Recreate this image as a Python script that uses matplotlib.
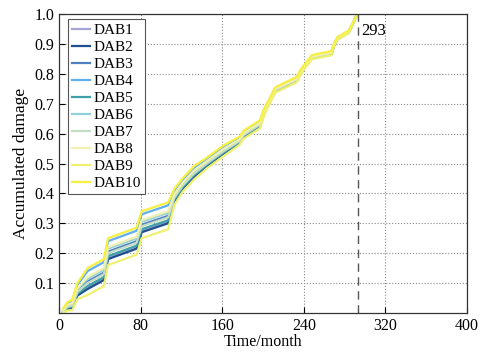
import matplotlib
matplotlib.use("Agg")
import matplotlib.pyplot as plt

months = [4, 8, 13, 18, 28, 44, 48, 76, 81, 107, 113, 121, 132, 145, 161, 177,
          181, 197, 201, 206, 212, 233, 237, 241, 248, 267, 270, 273, 284, 287, 291, 293]

dab1 = [0.002, 0.016, 0.019, 0.061, 0.085, 0.115, 0.185, 0.220, 0.275, 0.305, 0.376, 0.418, 0.458, 0.494, 0.534, 0.571,
        0.591, 0.626, 0.666, 0.702, 0.742, 0.777, 0.802, 0.823, 0.853, 0.866, 0.899, 0.917, 0.939, 0.959, 0.990, 1.000]
dab2 = [0.001, 0.014, 0.017, 0.058, 0.080, 0.110, 0.180, 0.215, 0.270, 0.300, 0.373, 0.415, 0.455, 0.492, 0.532, 0.569,
        0.589, 0.624, 0.665, 0.701, 0.741, 0.776, 0.801, 0.822, 0.852, 0.865, 0.898, 0.916, 0.938, 0.959, 0.990, 1.000]
dab3 = [0.006, 0.022, 0.027, 0.073, 0.105, 0.135, 0.205, 0.240, 0.295, 0.325, 0.388, 0.428, 0.468, 0.502, 0.542, 0.577,
        0.597, 0.632, 0.671, 0.706, 0.746, 0.781, 0.806, 0.826, 0.856, 0.869, 0.901, 0.919, 0.940, 0.960, 0.990, 1.000]
dab4 = [0.013, 0.032, 0.041, 0.094, 0.140, 0.170, 0.240, 0.275, 0.330, 0.360, 0.409, 0.445, 0.485, 0.516, 0.556, 0.587,
        0.607, 0.642, 0.680, 0.713, 0.753, 0.788, 0.813, 0.831, 0.861, 0.874, 0.904, 0.922, 0.944, 0.962, 0.991, 1.000]
dab5 = [0.003, 0.017, 0.021, 0.064, 0.090, 0.120, 0.190, 0.225, 0.280, 0.310, 0.379, 0.420, 0.460, 0.496, 0.536, 0.572,
        0.592, 0.627, 0.668, 0.703, 0.743, 0.778, 0.803, 0.824, 0.854, 0.867, 0.899, 0.917, 0.939, 0.960, 0.990, 1.000]
dab6 = [0.008, 0.025, 0.031, 0.079, 0.115, 0.145, 0.215, 0.250, 0.305, 0.335, 0.394, 0.433, 0.473, 0.506, 0.546, 0.580,
        0.600, 0.635, 0.674, 0.708, 0.748, 0.783, 0.808, 0.827, 0.857, 0.870, 0.902, 0.920, 0.942, 0.961, 0.990, 1.000]
dab7 = [0.005, 0.020, 0.025, 0.070, 0.100, 0.130, 0.200, 0.235, 0.290, 0.320, 0.385, 0.425, 0.465, 0.500, 0.540, 0.575,
        0.595, 0.630, 0.670, 0.705, 0.745, 0.780, 0.805, 0.825, 0.855, 0.868, 0.900, 0.918, 0.940, 0.960, 0.990, 1.000]
dab8 = [0.009, 0.026, 0.033, 0.082, 0.120, 0.150, 0.220, 0.255, 0.310, 0.340, 0.397, 0.435, 0.475, 0.508, 0.548, 0.581,
        0.601, 0.636, 0.675, 0.709, 0.749, 0.784, 0.809, 0.828, 0.858, 0.871, 0.902, 0.920, 0.942, 0.961, 0.990, 1.000]
dab9 = [0.000, 0.008, 0.009, 0.046, 0.060, 0.090, 0.160, 0.195, 0.250, 0.280, 0.361, 0.405, 0.445, 0.484, 0.524, 0.563,
        0.583, 0.618, 0.660, 0.697, 0.737, 0.772, 0.797, 0.819, 0.849, 0.862, 0.896, 0.914, 0.936, 0.958, 0.989, 1.000]
dab10 = [0.015, 0.035, 0.045, 0.100, 0.150, 0.180, 0.250, 0.285, 0.340, 0.370, 0.415, 0.450, 0.490, 0.520, 0.560, 0.590,
         0.610, 0.645, 0.683, 0.715, 0.755, 0.790, 0.815, 0.833, 0.863, 0.876, 0.905, 0.923, 0.945, 0.963, 0.991, 1.000]

series = [dab1, dab2, dab3, dab4, dab5, dab6, dab7, dab8, dab9, dab10]
labels = ["DAB1", "DAB2", "DAB3", "DAB4", "DAB5", "DAB6", "DAB7", "DAB8", "DAB9", "DAB10"]
colors = ["#a4a4d4", "#1f4f8f", "#4f7fbf", "#5fb0ef", "#3fa0a8", "#90d0d8",
          "#c4dcc4", "#f0f0b0", "#f0f070", "#f8f040"]

failure_month = 293
xticks = [0, 80, 160, 240, 320, 400]
yticks = [0.1, 0.2, 0.3, 0.4, 0.5, 0.6, 0.7, 0.8, 0.9, 1.0]

plt.rcParams['font.family'] = ['Liberation Serif', 'DejaVu Serif']

fig = plt.figure(figsize=(4.8, 3.52), dpi=100)
ax = fig.add_axes([0.123, 0.111, 0.850, 0.849])

for y, lab, c in zip(series, labels, colors):
    ax.plot(months, y, color=c, lw=1.6, label=lab)

ax.axvline(failure_month, color="#555555", lw=1.0, ls=(0, (6, 4)))
ax.text(failure_month + 3, 0.943, str(failure_month), fontsize=12, va="center", ha="left")

ax.set_xlim(0, 400)
ax.set_ylim(0, 1.0)
ax.set_xticks(xticks)
ax.set_xticklabels([str(v) for v in xticks])
ax.set_yticks(yticks)
ax.set_yticklabels([f"{v:.1f}" for v in yticks])
ax.tick_params(direction="in", length=4, labelsize=11.5, width=0.8)
ax.grid(True, ls=":", color="#888888", lw=0.8)
for s in ax.spines.values():
    s.set_linewidth(0.9)
    s.set_color("#333333")

ax.set_xlabel("Time/month", fontsize=11.5, labelpad=0.5)
ax.set_ylabel("Accumulated damage", fontsize=12.5, labelpad=4)

leg = ax.legend(loc="upper left", bbox_to_anchor=(0.022, 0.982), borderaxespad=0,
                fontsize=11, fancybox=False, edgecolor="#555555",
                framealpha=1, handlelength=1.2, labelspacing=0.22, borderpad=0.25,
                handletextpad=0.25)
leg.get_frame().set_linewidth(0.8)

fig.savefig("out.png", dpi=100)
